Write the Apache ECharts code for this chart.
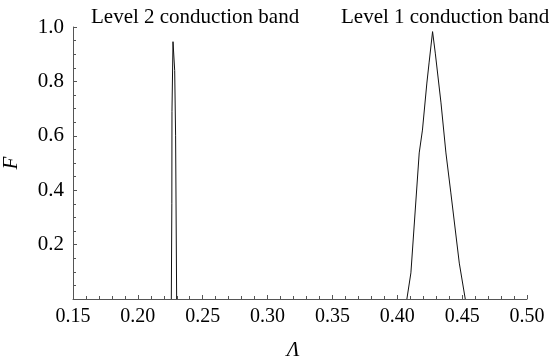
<!DOCTYPE html>
<html>
<head>
<meta charset="utf-8">
<script src="https://cdn.jsdelivr.net/npm/echarts@6/dist/echarts.min.js"></script>
<style>
  html, body { margin: 0; padding: 0; background: #fff; }
  #chart-container { width: 554px; height: 357px; }
</style>
</head>
<body>
<div id="chart-container"></div>
<script>
// values
const xTicks = [0.15, 0.2, 0.25, 0.3, 0.35, 0.4, 0.45, 0.5];
const yTicks = [0.2, 0.4, 0.6, 0.8, 1.0];

const level2Lambda = [0.2258, 0.2262, 0.2263, 0.2271, 0.2284, 0.2291, 0.2299];
const level2F = [0, 0.35, 0.69, 0.946, 0.84, 0.6, 0];

const level1Lambda = [0.4074, 0.4105, 0.4169, 0.4194, 0.4228, 0.4245, 0.4272, 0.4293, 0.4337, 0.4375, 0.4413, 0.4478, 0.4524];
const level1F = [0, 0.096, 0.537, 0.621, 0.794, 0.868, 0.983, 0.904, 0.721, 0.537, 0.39, 0.132, 0];

const bandLabels = ["Level 2 conduction band", "Level 1 conduction band"];

const serif = "'Liberation Serif', 'Times New Roman', serif";
const axisGray = "#555";

const pairs = (xs, ys) => xs.map((x, i) => [x, ys[i]]);

let option = {
  animation: false,
  title: [
    {
      text: bandLabels[0],
      left: 91,
      top: 7,
      padding: 0,
      textStyle: { fontFamily: serif, fontSize: 21, fontWeight: "normal", color: "#000" },
    },
    {
      text: bandLabels[1],
      left: 341,
      top: 7,
      padding: 0,
      textStyle: { fontFamily: serif, fontSize: 21, fontWeight: "normal", color: "#000" },
    },
  ],
  grid: {
    left: 73,
    right: 27,
    top: 27,
    bottom: 58,
    outerBoundsMode: "none",
  },
  xAxis: {
    type: "value",
    min: xTicks[0],
    max: xTicks[xTicks.length - 1],
    interval: 0.05,
    name: "\u039B",
    nameLocation: "middle",
    nameGap: 41,
    nameTextStyle: {
      fontFamily: serif,
      fontStyle: "italic",
      fontSize: 21,
      color: "#000",
      padding: [0, 14, 0, 0],
    },
    axisLine: { show: true, lineStyle: { color: axisGray, width: 1 } },
    axisTick: { show: true, inside: true, length: 4, lineStyle: { color: axisGray } },
    minorTick: { show: true, splitNumber: 5, length: 3, lineStyle: { color: axisGray } },
    splitLine: { show: false },
    axisLabel: {
      margin: 8,
      fontFamily: serif,
      fontSize: 20,
      color: "#000",
      formatter: (v) => v.toFixed(2),
    },
  },
  yAxis: {
    type: "value",
    min: 0,
    max: 1,
    interval: 0.2,
    name: "F",
    nameLocation: "middle",
    nameGap: 51,
    nameTextStyle: {
      fontFamily: serif,
      fontStyle: "italic",
      fontSize: 21,
      color: "#000",
    },
    axisLine: { show: true, lineStyle: { color: axisGray, width: 1 } },
    axisTick: { show: true, inside: true, length: 4, lineStyle: { color: axisGray } },
    minorTick: { show: true, splitNumber: 4, length: 3, lineStyle: { color: axisGray } },
    splitLine: { show: false },
    axisLabel: {
      margin: 9,
      fontFamily: serif,
      fontSize: 21,
      color: "#000",
      formatter: (v) => (yTicks.some((t) => Math.abs(t - v) < 1e-9) ? v.toFixed(1) : ""),
    },
  },
  series: [
    {
      name: bandLabels[0],
      type: "line",
      data: pairs(level2Lambda, level2F),
      showSymbol: false,
      lineStyle: { color: "#111", width: 1 },
    },
    {
      name: bandLabels[1],
      type: "line",
      data: pairs(level1Lambda, level1F),
      showSymbol: false,
      lineStyle: { color: "#111", width: 1 },
    },
  ],
};

const paintChart = () => {
  let dom = document.getElementById("chart-container");
  let myChart = echarts.init(dom, null, { renderer: "canvas" });
  myChart.setOption(option);
};
paintChart();
</script>
</body>
</html>
